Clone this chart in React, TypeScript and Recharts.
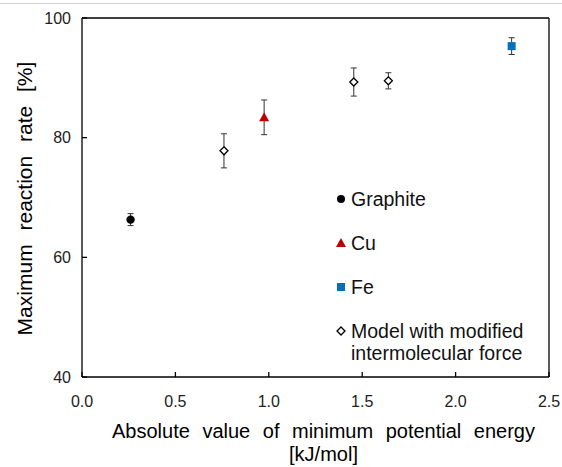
import React from 'react';
import {
    ScatterChart,
    Scatter,
    XAxis,
    YAxis,
    ErrorBar,
    ReferenceLine,
    Label
} from 'recharts';

const graphiteX = [0.26];
const graphiteY = [66.3];
const graphiteErr = [1.0];

const cuX = [0.975];
const cuY = [83.4];
const cuErr = [2.9];

const feX = [2.3];
const feY = [95.3];
const feErr = [1.4];

const modelX = [0.76, 1.455, 1.64];
const modelY = [77.8, 89.3, 89.5];
const modelErr = [2.85, 2.35, 1.35];

const xTicks = [0, 0.5, 1, 1.5, 2, 2.5];
const yTicks = [40, 60, 80, 100];

const toRows = (xs: number[], ys: number[], errs: number[]) =>
    xs.map((x, i) => ({ x, y: ys[i], err: errs[i] }));

const FONT = '"Liberation Sans", Arial, sans-serif';

const Circle = ({ cx, cy }: any) => <circle cx={cx} cy={cy} r={4.2} fill="#000" />;
const Triangle = ({ cx, cy }: any) => (
    <polygon points={`${cx},${cy - 5} ${cx + 5},${cy + 4} ${cx - 5},${cy + 4}`} fill="#C00000" />
);
const Square = ({ cx, cy }: any) => <rect x={cx - 4} y={cy - 4} width={8} height={8} fill="#0070C0" />;
const Diamond = ({ cx, cy }: any) => (
    <polygon
        points={`${cx},${cy - 4} ${cx + 4},${cy} ${cx},${cy + 4} ${cx - 4},${cy}`}
        fill="#fff"
        stroke="#000"
        strokeWidth={1.3}
    />
);

const legendItems = [
    { name: 'Graphite', icon: <circle cx={6} cy={7} r={4} fill="#000" /> },
    { name: 'Cu', icon: <polygon points="6,2 11,11 1,11" fill="#C00000" /> },
    { name: 'Fe', icon: <rect x={2} y={3} width={8} height={8} fill="#0070C0" /> },
    {
        name: 'Model with modified intermolecular force',
        icon: <polygon points="6,3 10,7 6,11 2,7" fill="#fff" stroke="#000" strokeWidth={1.3} />
    }
];

// in-plot legend, laid over the chart so it takes no room from the plot
const InPlotLegend = () => (
    <div style={{ position: 'absolute', left: 335, top: 188, width: 215, fontFamily: FONT, fontSize: 19.5, color: '#111' }}>
        {legendItems.map((item) => (
            <div key={item.name} style={{ display: 'flex', alignItems: 'flex-start', marginBottom: 22 }}>
                <svg width={12} height={14} style={{ marginTop: 4, marginRight: 4, flexShrink: 0 }}>
                    {item.icon}
                </svg>
                <span style={{ lineHeight: '22px' }}>{item.name}</span>
            </div>
        ))}
    </div>
);

const XTitle = ({ viewBox }: any) => {
    const cx = viewBox.x + viewBox.width / 2 + 8;
    return (
        <text x={cx} y={viewBox.y + 61} textAnchor="middle" fontFamily={FONT} fontSize={20} fill="#000" wordSpacing={7}>
            <tspan x={cx}>Absolute value of minimum potential energy</tspan>
            <tspan x={cx} dy={23}>[kJ/mol]</tspan>
        </text>
    );
};

const YTitle = ({ viewBox }: any) => {
    const cy = viewBox.y + viewBox.height / 2 + 1;
    return (
        <text
            x={32}
            y={cy}
            transform={`rotate(-90, 32, ${cy})`}
            textAnchor="middle"
            fontFamily={FONT}
            fontSize={21}
            fill="#000"
            wordSpacing={8}
        >
            Maximum reaction rate [%]
        </text>
    );
};

export default function App() {
    return (
        <div style={{ position: 'fixed', left: 0, top: 0, width: 562, height: 467, background: '#fff' }}>
            <div style={{ position: 'absolute', top: 3, left: 0, width: 562, height: 1, background: '#d0d0d0' }} />
            <ScatterChart width={562} height={467} margin={{ top: 18, right: 13, bottom: 0, left: 22 }} style={{ overflow: 'visible' }}>
                <XAxis
                    type="number"
                    dataKey="x"
                    domain={[0, 2.5]}
                    ticks={xTicks}
                    tickFormatter={(v: number) => v.toFixed(1)}
                    height={90}
                    stroke="#000"
                    strokeWidth={1.3}
                    tickSize={-5}
                    tickMargin={24}
                    tick={{ fill: '#222', fontSize: 16, fontFamily: FONT }}
                    interval={0}
                    allowDataOverflow
                >
                    <Label content={<XTitle />} />
                </XAxis>
                <YAxis
                    type="number"
                    dataKey="y"
                    domain={[40, 100]}
                    ticks={yTicks}
                    width={60}
                    stroke="#000"
                    strokeWidth={1.3}
                    tickSize={-5}
                    tickMargin={16}
                    tick={{ fill: '#222', fontSize: 16, fontFamily: FONT }}
                    interval={0}
                    allowDataOverflow
                >
                    <Label content={<YTitle />} />
                </YAxis>
                <ReferenceLine y={100} stroke="#000" strokeWidth={1.3} />
                <ReferenceLine x={2.5} stroke="#000" strokeWidth={1.3} />
                <Scatter name="Graphite" data={toRows(graphiteX, graphiteY, graphiteErr)} shape={<Circle />} isAnimationActive={false}>
                    <ErrorBar dataKey="err" direction="y" width={3} stroke="#333" strokeWidth={1} />
                </Scatter>
                <Scatter name="Cu" data={toRows(cuX, cuY, cuErr)} shape={<Triangle />} isAnimationActive={false}>
                    <ErrorBar dataKey="err" direction="y" width={3} stroke="#333" strokeWidth={1} />
                </Scatter>
                <Scatter name="Fe" data={toRows(feX, feY, feErr)} shape={<Square />} isAnimationActive={false}>
                    <ErrorBar dataKey="err" direction="y" width={3} stroke="#333" strokeWidth={1} />
                </Scatter>
                <Scatter name="Model" data={toRows(modelX, modelY, modelErr)} shape={<Diamond />} isAnimationActive={false}>
                    <ErrorBar dataKey="err" direction="y" width={3} stroke="#333" strokeWidth={1} />
                </Scatter>
            </ScatterChart>
            <InPlotLegend />
        </div>
    );
}
